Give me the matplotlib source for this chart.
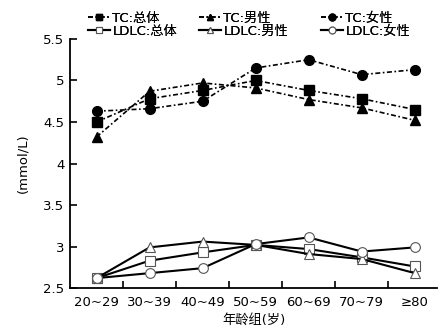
# TC / LDLC by age group
import numpy as np
import matplotlib.pyplot as plt

plt.rcParams['font.family'] = ['DejaVu Sans', 'Noto Sans CJK SC']

age_groups = ["20~29", "30~39", "40~49", "50~59", "60~69", "70~79", "≥80"]

tc_total = [4.50, 4.78, 4.88, 5.00, 4.88, 4.78, 4.65]
tc_male = [4.32, 4.87, 4.97, 4.91, 4.77, 4.67, 4.52]
tc_female = [4.63, 4.66, 4.75, 5.15, 5.25, 5.07, 5.13]

ldlc_total = [2.62, 2.83, 2.93, 3.02, 2.97, 2.87, 2.76]
ldlc_male = [2.62, 2.99, 3.06, 3.02, 2.91, 2.85, 2.68]
ldlc_female = [2.62, 2.68, 2.74, 3.03, 3.11, 2.94, 2.99]

x = np.arange(len(age_groups))
dash = (0, (3, 1.5, 1, 1.5))
fs = 9.5

fig = plt.figure(figsize=(4.46, 3.30), dpi=100)
ax = fig.add_axes([0.157, 0.127, 0.823, 0.755])

h1, = ax.plot(x, tc_total, color='black', ls=dash, lw=1.2, marker='s', ms=6.5, label='TC:总体')
h2, = ax.plot(x, tc_male, color='black', ls=dash, lw=1.2, marker='^', ms=6.5, label='TC:男性')
h3, = ax.plot(x, tc_female, color='black', ls=dash, lw=1.2, marker='o', ms=7, label='TC:女性')
h4, = ax.plot(x, ldlc_total, color='black', ls='-', lw=1.5, marker='s', ms=6.5,
              mfc='white', mec='#555555', mew=0.8, label='LDLC:总体')
h5, = ax.plot(x, ldlc_male, color='black', ls='-', lw=1.5, marker='^', ms=6.5,
              mfc='white', mec='#555555', mew=0.8, label='LDLC:男性')
h6, = ax.plot(x, ldlc_female, color='black', ls='-', lw=1.5, marker='o', ms=7,
              mfc='white', mec='#555555', mew=0.8, label='LDLC:女性')

ax.set_xlim(-0.5, 6.42)
ax.set_ylim(2.5, 5.5)
ax.set_yticks([2.5, 3, 3.5, 4, 4.5, 5, 5.5])
ax.set_yticklabels(['2.5', '3', '3.5', '4', '4.5', '5', '5.5'])
ax.set_xticks(x)
ax.set_xticklabels(age_groups)
ax.set_xticks(np.arange(0.5, 6.5, 1), minor=True)
ax.tick_params(axis='x', which='major', length=0, labelsize=fs, pad=6)
ax.tick_params(axis='x', which='minor', direction='in', length=5, width=1.2)
ax.tick_params(axis='y', direction='in', length=5, width=1.2, labelsize=fs, pad=4)

for s in ['top', 'right']:
    ax.spines[s].set_visible(False)
for s in ['left', 'bottom']:
    ax.spines[s].set_linewidth(1.3)

ax.set_xlabel('年龄组(岁)', fontsize=fs, labelpad=3)
ax.set_ylabel('(mmol/L)', fontsize=fs, labelpad=10)

# three legend columns placed separately
pairs = [([h1, h4], 88), ([h2, h5], 199), ([h3, h6], 321)]
for hs, px in pairs:
    lg = fig.legend(handles=hs, loc='upper left', bbox_to_anchor=(px / 446, 1 - 12 / 330),
                    frameon=False, fontsize=fs, handlelength=1.7, handletextpad=0.15,
                    labelspacing=0.0, markerscale=0.7, borderpad=0, borderaxespad=0)
    fig.add_artist(lg)

fig.savefig('out.png', dpi=100)
